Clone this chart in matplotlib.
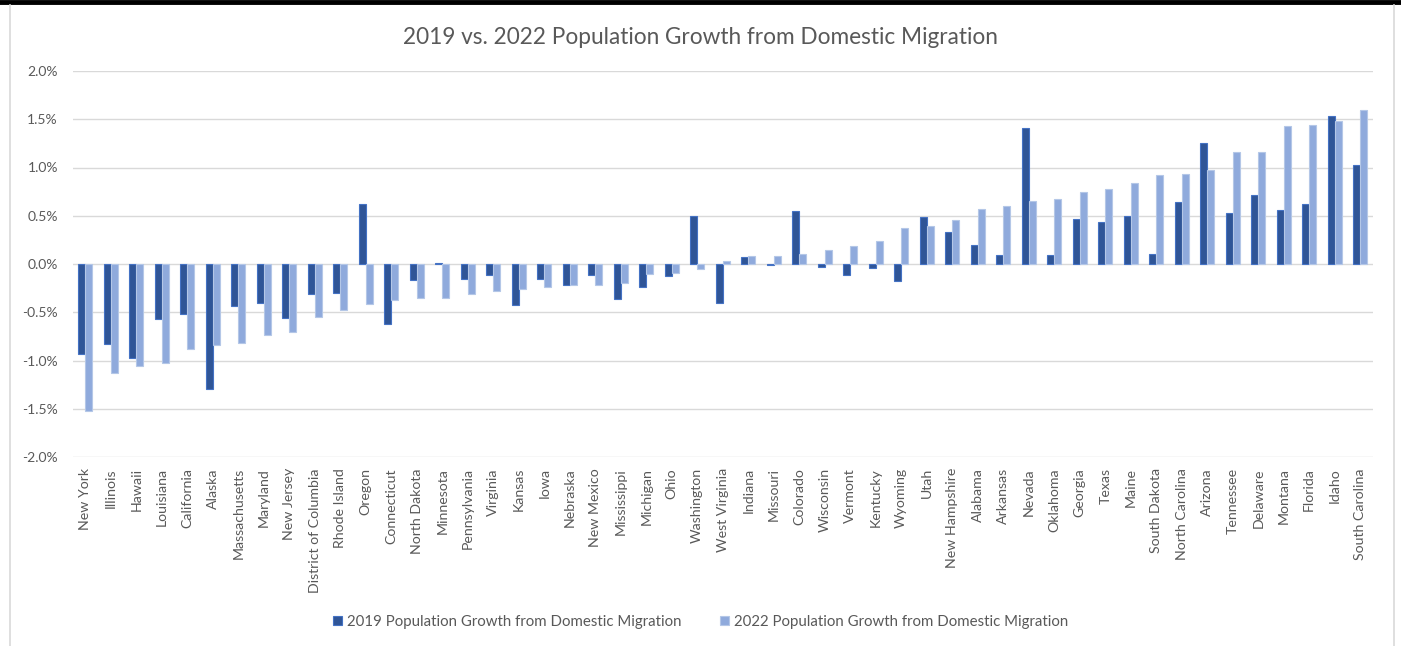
import numpy as np
import matplotlib
matplotlib.use("Agg")
import matplotlib.pyplot as plt
from matplotlib.lines import Line2D
from matplotlib.patches import Patch
from matplotlib.ticker import FuncFormatter, MultipleLocator

states = [
    "New York", "Illinois", "Hawaii", "Louisiana", "California", "Alaska",
    "Massachusetts", "Maryland", "New Jersey", "District of Columbia",
    "Rhode Island", "Oregon", "Connecticut", "North Dakota", "Minnesota",
    "Pennsylvania", "Virginia", "Kansas", "Iowa", "Nebraska", "New Mexico",
    "Mississippi", "Michigan", "Ohio", "Washington", "West Virginia",
    "Indiana", "Missouri", "Colorado", "Wisconsin", "Vermont", "Kentucky",
    "Wyoming", "Utah", "New Hampshire", "Alabama", "Arkansas", "Nevada",
    "Oklahoma", "Georgia", "Texas", "Maine", "South Dakota",
    "North Carolina", "Arizona", "Tennessee", "Delaware", "Montana",
    "Florida", "Idaho", "South Carolina",
]

# Net domestic migration as % of population
growth_2019 = [
    -0.935, -0.83, -0.976, -0.566, -0.52, -1.297,
    -0.44, -0.40, -0.56, -0.31,
    -0.30, 0.62, -0.62, -0.165, 0.015,
    -0.155, -0.11, -0.43, -0.16, -0.22, -0.11,
    -0.36, -0.24, -0.12, 0.50, -0.40,
    0.07, -0.015, 0.55, -0.028, -0.11, -0.038,
    -0.176, 0.49, 0.335, 0.20, 0.096, 1.408,
    0.096, 0.469, 0.435, 0.493, 0.107,
    0.642, 1.253, 0.528, 0.714, 0.562,
    0.624, 1.535, 1.028,
]
growth_2022 = [
    -1.525, -1.13, -1.06, -1.025, -0.88, -0.84,
    -0.82, -0.735, -0.70, -0.55,
    -0.48, -0.41, -0.37, -0.355, -0.35,
    -0.31, -0.275, -0.26, -0.24, -0.22, -0.215,
    -0.20, -0.10, -0.09, -0.05, 0.035,
    0.086, 0.086, 0.104, 0.14, 0.183, 0.235,
    0.375, 0.39, 0.455, 0.57, 0.60, 0.652,
    0.673, 0.749, 0.776, 0.838, 0.924,
    0.935, 0.969, 1.163, 1.163, 1.429,
    1.439, 1.48, 1.594,
]

series_labels = [
    "2019 Population Growth from Domestic Migration",
    "2022 Population Growth from Domestic Migration",
]
title = "2019 vs. 2022 Population Growth from Domestic Migration"

FONT = ["Lato", "DejaVu Sans"]
plt.rcParams["font.family"] = FONT
TEXT = "#595959"
DARK, DARK_EDGE = "#2F5597", "#4472C4"
LIGHT, LIGHT_EDGE = "#8FAADC", "#B4C7E7"

fig = plt.figure(figsize=(14.01, 6.46), dpi=100)
ax = fig.add_axes([72.5 / 1401, 1 - 457 / 646, (1373 - 72.5) / 1401, (457 - 71) / 646])

x = np.arange(len(states))
w = 0.27
ax.bar(x - w / 2, growth_2019, width=w, color=DARK, edgecolor=DARK_EDGE,
       linewidth=0.8, zorder=3)
ax.bar(x + w / 2, growth_2022, width=w, color=LIGHT, edgecolor=LIGHT_EDGE,
       linewidth=0.8, zorder=3)

ax.set_xlim(-0.5, len(states) - 0.5)
ax.set_ylim(-2.0, 2.0)
ax.yaxis.set_major_locator(MultipleLocator(0.5))
ax.yaxis.set_major_formatter(FuncFormatter(lambda v, _: f"{v:.1f}%"))
ax.grid(axis="y", color="#D9D9D9", linewidth=1.0, zorder=0)
ax.set_axisbelow(True)
for s in ax.spines.values():
    s.set_visible(False)

ax.set_xticks(x)
ax.set_xticklabels(states, rotation=90, fontsize=10.2, color=TEXT)
ax.tick_params(axis="x", length=0, pad=8)
ax.tick_params(axis="y", length=0, pad=10.5, labelsize=10, labelcolor=TEXT)

fig.text(0.5, 1 - 37 / 646, title, ha="center", va="center",
         fontsize=16.3, color=TEXT)

handles = [
    Patch(facecolor=DARK, edgecolor=DARK_EDGE, linewidth=0.8),
    Patch(facecolor=LIGHT, edgecolor=LIGHT_EDGE, linewidth=0.8),
]
fig.legend(handles, series_labels, loc="center", ncol=2,
           bbox_to_anchor=(0.5, 1 - 622 / 646), frameon=False,
           fontsize=10.8, labelcolor=TEXT, handlelength=0.6, handleheight=0.6,
           handletextpad=0.3, columnspacing=2.6)

# Frame: heavy top rule and light side borders
fig.add_artist(Line2D([0, 1], [1 - 2 / 646, 1 - 2 / 646], color="black",
                      linewidth=3.5, transform=fig.transFigure))
fig.add_artist(Line2D([9.5 / 1401, 9.5 / 1401], [0, 1 - 5 / 646],
                      color="#D9D9D9", linewidth=1.2, transform=fig.transFigure))
fig.add_artist(Line2D([1393.5 / 1401, 1393.5 / 1401], [0, 1 - 5 / 646],
                      color="#D9D9D9", linewidth=1.2, transform=fig.transFigure))

fig.savefig("out.png", dpi=100, facecolor="white")
